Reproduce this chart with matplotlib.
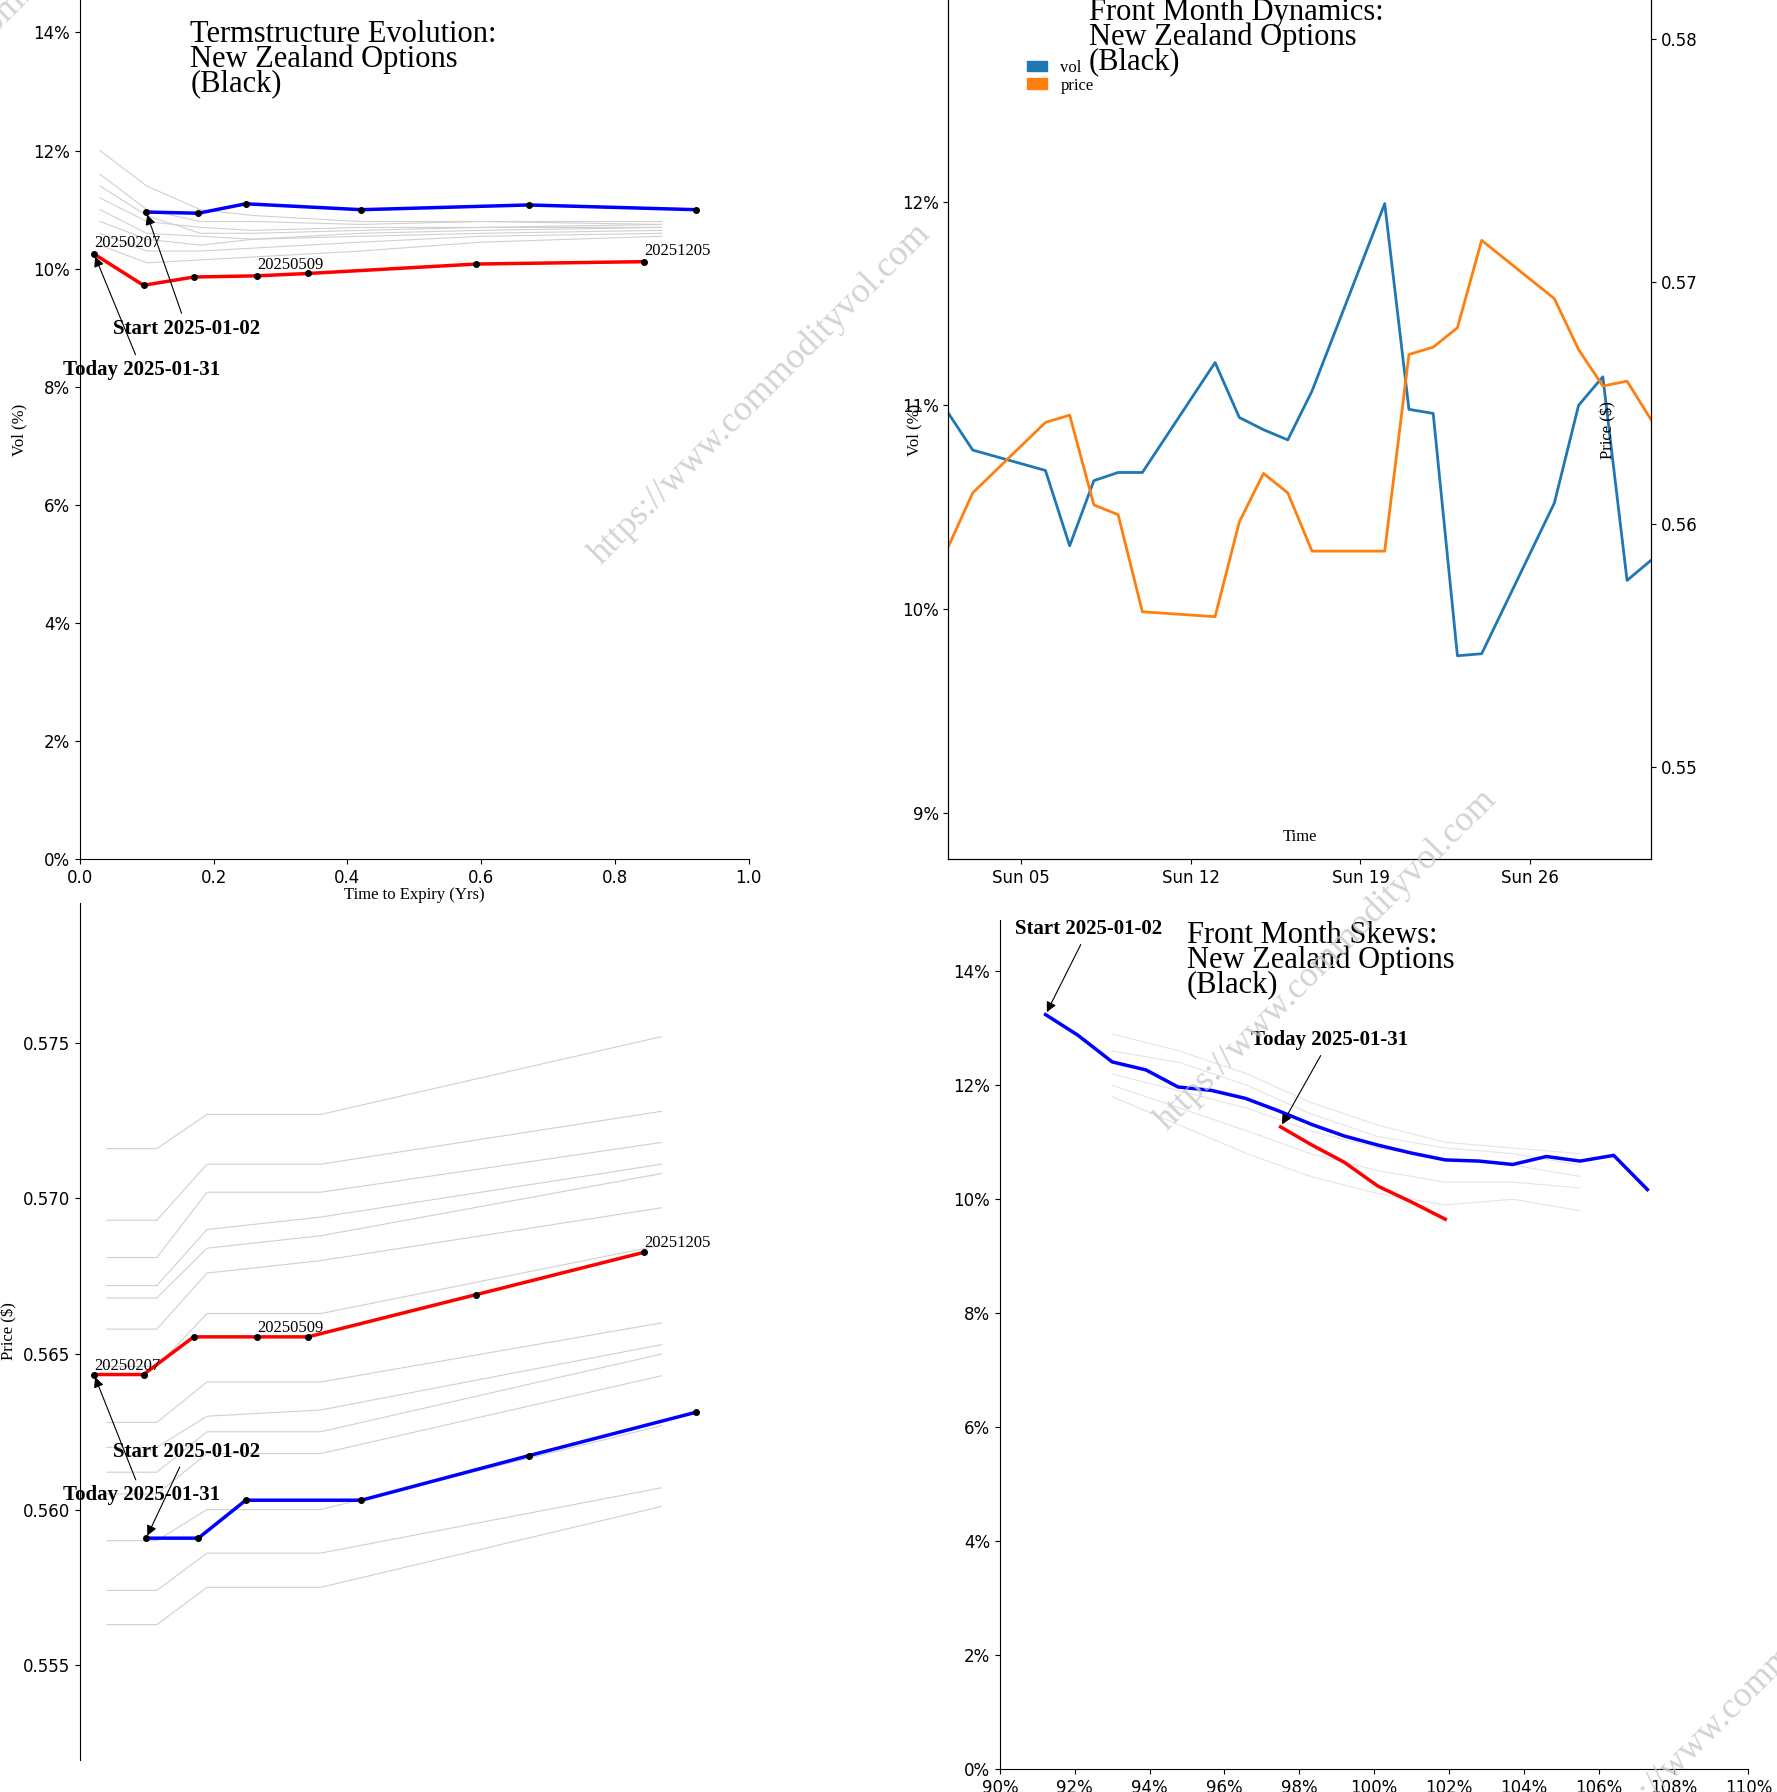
import matplotlib
matplotlib.use("Agg")
import matplotlib.pyplot as plt
import matplotlib.dates as mdates
import matplotlib.ticker as mt
import numpy as np
import datetime as dt

SERIF = "Liberation Serif"
W, H = 1555.0, 1568.0

# ---- term structure (vol) ----
today_t = [0.021, 0.095, 0.17, 0.265, 0.341, 0.593, 0.844]
today_vol = [10.25, 9.72, 9.86, 9.88, 9.92, 10.08, 10.12]
start_t = [0.099, 0.177, 0.248, 0.421, 0.671, 0.922]
start_vol = [10.96, 10.94, 11.10, 11.00, 11.08, 11.00]
grey_t = [0.03, 0.10, 0.18, 0.26, 0.42, 0.60, 0.87]
grey_vols = [
    [12.0, 11.4, 11.0, 10.9, 10.8, 10.8, 10.75],
    [11.6, 11.0, 10.8, 10.8, 10.75, 10.8, 10.8],
    [11.2, 10.8, 10.7, 10.65, 10.7, 10.7, 10.75],
    [11.0, 10.6, 10.55, 10.5, 10.6, 10.65, 10.7],
    [10.8, 10.5, 10.4, 10.5, 10.55, 10.6, 10.65],
    [10.6, 10.3, 10.3, 10.35, 10.45, 10.55, 10.6],
    [10.4, 10.1, 10.15, 10.2, 10.3, 10.45, 10.55],
    [11.4, 10.9, 10.6, 10.6, 10.65, 10.7, 10.7],
]
# ---- term structure (price) ----
today_px = [0.56434, 0.56434, 0.56555, 0.56555, 0.56555, 0.56691, 0.56827]
start_px = [0.55908, 0.55908, 0.5603, 0.5603, 0.56173, 0.56313]
grey_pt = [0.04, 0.115, 0.19, 0.36, 0.87]
grey_px = [
    [0.5716, 0.5716, 0.5727, 0.5727, 0.5752],
    [0.5693, 0.5693, 0.5711, 0.5711, 0.5728],
    [0.5681, 0.5681, 0.5702, 0.5702, 0.5718],
    [0.5672, 0.5672, 0.5690, 0.5694, 0.5711],
    [0.5668, 0.5668, 0.5684, 0.5688, 0.5708],
    [0.5658, 0.5658, 0.5676, 0.5680, 0.5697],
    [0.5646, 0.5646, 0.5663, 0.5663, 0.5685],
    [0.5628, 0.5628, 0.5641, 0.5641, 0.5660],
    [0.5620, 0.5620, 0.5630, 0.5632, 0.5653],
    [0.5612, 0.5612, 0.5625, 0.5625, 0.5650],
    [0.5605, 0.5605, 0.5618, 0.5618, 0.5643],
    [0.5590, 0.5590, 0.5600, 0.5600, 0.5627],
    [0.5574, 0.5574, 0.5586, 0.5586, 0.5607],
    [0.5563, 0.5563, 0.5575, 0.5575, 0.5601],
]
# ---- front month dynamics ----
days = [2, 3, 6, 7, 8, 9, 10, 13, 14, 15, 16, 17, 20, 21, 22, 23, 24, 27, 28, 29, 30, 31]
fm_vol = [10.96, 10.78, 10.68, 10.31, 10.63, 10.67, 10.67, 11.21, 10.94, 10.88, 10.83, 11.07,
          11.99, 10.98, 10.96, 9.77, 9.78, 10.52, 11.0, 11.14, 10.14, 10.24]
fm_px = [0.5591, 0.5613, 0.5642, 0.5645, 0.5608, 0.5604, 0.5564, 0.5562, 0.5601, 0.5621,
         0.5613, 0.5589, 0.5589, 0.5670, 0.5673, 0.5681, 0.5717, 0.5693, 0.5672, 0.5657,
         0.5659, 0.5643]
# ---- skews ----
start_k = [91.22, 92.08, 93.0, 93.9, 94.76, 95.65, 96.56, 97.45, 98.34, 99.2, 100.1, 101.0,
           101.9, 102.8, 103.7, 104.6, 105.5, 106.4, 107.3]
start_sk = [13.24, 12.88, 12.41, 12.27, 11.97, 11.91, 11.77, 11.55, 11.31, 11.11, 10.95, 10.81,
            10.69, 10.67, 10.61, 10.75, 10.67, 10.77, 10.17]
today_k = [97.5, 98.34, 99.2, 100.1, 101.0, 101.9]
today_sk = [11.27, 10.95, 10.65, 10.23, 9.95, 9.65]
grey_k = [93.0, 94.8, 96.6, 98.3, 100.1, 101.9, 103.7, 105.5]
grey_sk = [
    [12.6, 12.4, 12.0, 11.5, 11.1, 10.9, 10.8, 10.6],
    [12.2, 11.9, 11.6, 11.2, 10.9, 10.7, 10.6, 10.4],
    [12.9, 12.6, 12.2, 11.7, 11.3, 11.0, 10.9, 10.8],
    [12.0, 11.6, 11.2, 10.8, 10.5, 10.3, 10.3, 10.2],
    [11.8, 11.3, 10.8, 10.4, 10.1, 9.9, 10.0, 9.8],
]

fig = plt.figure(figsize=(17.77, 17.92), dpi=100)


def ax_at(x0, y0, x1, y1):
    return fig.add_axes([x0 / W, 1 - y1 / H, (x1 - x0) / W, (y1 - y0) / H])


def style(ax, bottom=True):
    for s in ["top", "right"]:
        ax.spines[s].set_visible(False)
    ax.spines["bottom"].set_visible(bottom)
    ax.tick_params(labelsize=12)


def note(ax, text, xy, xytext):
    ax.annotate(text, xy=xy, xytext=xytext, textcoords="data", fontfamily=SERIF,
                fontsize=15, fontweight="bold",
                arrowprops=dict(arrowstyle="-|>", color="black", lw=0.8))


pct = mt.FuncFormatter(lambda v, p: f"{v:.0f}%")

# panel 1
ax1 = ax_at(70, 0, 655, 752)
style(ax1)
for g in grey_vols:
    ax1.plot(grey_t, g, color="#d0d0d0", lw=0.8)
ax1.plot(today_t, today_vol, color="red", lw=2.5, marker="o", ms=4, mfc="black", mec="black")
ax1.plot(start_t, start_vol, color="blue", lw=2.5, marker="o", ms=4, mfc="black", mec="black")
ax1.set_xlim(0, 1.0)
ax1.set_ylim(0, 14.55)
ax1.set_yticks(range(0, 15, 2))
ax1.yaxis.set_major_formatter(pct)
ax1.set_xticks([0, 0.2, 0.4, 0.6, 0.8, 1.0])
ax1.set_xlabel("Time to Expiry (Yrs)", fontfamily=SERIF, fontsize=12, labelpad=0)
ax1.set_ylabel("Vol (%)", fontfamily=SERIF, fontsize=12)
for x, y, s in [(0.021, 10.25, "20250207"), (0.265, 9.88, "20250509"), (0.844, 10.12, "20251205")]:
    ax1.text(x, y + 0.05, s, fontfamily=SERIF, fontsize=12, va="bottom")
ax1.text(0.165, 13.55, "Termstructure Evolution:\nNew Zealand Options\n(Black)", fontfamily=SERIF,
         fontsize=22, va="center", linespacing=0.8)
note(ax1, "Start 2025-01-02", (0.099, 10.96), (0.05, 8.9))
note(ax1, "Today 2025-01-31", (0.021, 10.25), (-0.025, 8.2))

# panel 2
ax2 = ax_at(830, 0, 1445, 752)
ax2.spines["top"].set_visible(False)
dates = [dt.datetime(2025, 1, d) for d in days]
ax2.plot(dates, fm_vol, color="#1f77b4", lw=2, label="vol")
ax2.set_ylim(8.77, 12.99)
ax2.set_yticks([9, 10, 11, 12])
ax2.yaxis.set_major_formatter(pct)
ax2.set_xlim(dt.datetime(2025, 1, 2), dt.datetime(2025, 1, 31))
ax2.xaxis.set_major_locator(mdates.WeekdayLocator(byweekday=mdates.SU))
ax2.xaxis.set_major_formatter(mdates.DateFormatter("Sun %d"))
ax2.tick_params(labelsize=12)
ax2.set_ylabel("Vol (%)", fontfamily=SERIF, fontsize=12, labelpad=-15)
ax2.set_xlabel("Time", fontfamily=SERIF, fontsize=12, labelpad=-42)
ax2b = ax2.twinx()
ax2b.spines["top"].set_visible(False)
ax2b.plot(dates, fm_px, color="#ff7f0e", lw=2, label="price")
ax2b.set_ylim(0.5462, 0.5816)
ax2b.set_yticks([0.55, 0.56, 0.57, 0.58])
ax2b.tick_params(labelsize=12)
ax2b.set_ylabel("Price ($)", fontfamily=SERIF, fontsize=12, labelpad=-70)
h = [plt.Rectangle((0, 0), 1, 1, color="#1f77b4"), plt.Rectangle((0, 0), 1, 1, color="#ff7f0e")]
ax2.legend(h, ["vol", "price"], loc="upper left", bbox_to_anchor=(0.1, 0.94), frameon=False,
           prop={"family": SERIF, "size": 12}, handlelength=1.2, handleheight=0.6,
           labelspacing=0.1, borderpad=0)
ax2.text(0.2, 0.957, "Front Month Dynamics:\nNew Zealand Options\n(Black)", transform=ax2.transAxes,
         fontfamily=SERIF, fontsize=22, va="center", linespacing=0.8)

# panel 3
ax3 = ax_at(70, 790, 655, 1540)
style(ax3, bottom=False)
for g in grey_px:
    ax3.plot(grey_pt, g, color="#d0d0d0", lw=0.8)
ax3.plot(today_t, today_px, color="red", lw=2.5, marker="o", ms=4, mfc="black", mec="black")
ax3.plot(start_t, start_px, color="blue", lw=2.5, marker="o", ms=4, mfc="black", mec="black")
ax3.set_xlim(0, 1.0)
ax3.set_ylim(0.55195, 0.5795)
ax3.set_yticks([0.555, 0.56, 0.565, 0.57, 0.575])
ax3.yaxis.set_major_formatter(mt.FormatStrFormatter("%.3f"))
ax3.set_xticks([])
ax3.set_ylabel("Price ($)", fontfamily=SERIF, fontsize=12)
for x, y, s in [(0.021, 0.56434, "20250207"), (0.265, 0.56555, "20250509"), (0.844, 0.56827, "20251205")]:
    ax3.text(x, y + 0.00003, s, fontfamily=SERIF, fontsize=12, va="bottom")
note(ax3, "Start 2025-01-02", (0.099, 0.55908), (0.05, 0.5617))
note(ax3, "Today 2025-01-31", (0.021, 0.56434), (-0.025, 0.5603))

# panel 4
ax4 = ax_at(875, 805, 1530, 1548)
style(ax4)
for g in grey_sk:
    ax4.plot(grey_k, g, color="#e4e4e4", lw=0.8)
ax4.plot(start_k, start_sk, color="blue", lw=2.5)
ax4.plot(today_k, today_sk, color="red", lw=2.5)
ax4.set_xlim(90, 110)
ax4.set_ylim(0, 14.9)
ax4.set_xticks(range(90, 111, 2))
ax4.xaxis.set_major_formatter(pct)
ax4.set_yticks(range(0, 15, 2))
ax4.yaxis.set_major_formatter(pct)
ax4.text(95.0, 14.2, "Front Month Skews:\nNew Zealand Options\n(Black)", fontfamily=SERIF,
         fontsize=22, va="center", linespacing=0.8)
note(ax4, "Start 2025-01-02", (91.22, 13.24), (90.4, 14.65))
note(ax4, "Today 2025-01-31", (97.5, 11.27), (96.7, 12.7))

# watermarks
for x, y in [(665, 345), (1160, 840), (1540, 1470), (10, 5)]:
    fig.text(x / W, 1 - y / H, "https://www.commodityvol.com", rotation=45, ha="center",
             va="center", fontfamily=SERIF, fontsize=26, color="#c8c8c8", alpha=0.8)

fig.savefig("out.png", dpi=100)
